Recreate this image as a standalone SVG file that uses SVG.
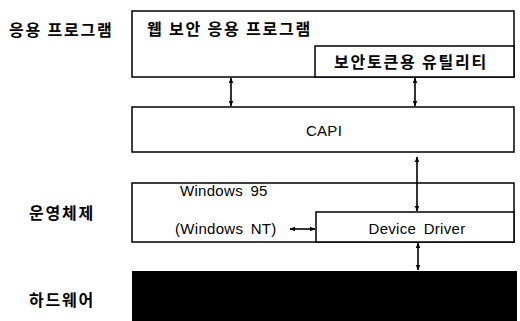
<svg xmlns="http://www.w3.org/2000/svg" width="520" height="321" viewBox="0 0 520 321">
<style>
.box{fill:#fff;stroke:#000;stroke-width:1.5}
.kr{font-family:"Noto Sans CJK KR","Noto Sans",sans-serif;font-weight:bold;font-size:16px;letter-spacing:1.8px;fill:#000}
.en{font-family:"Liberation Sans",Arial,sans-serif;font-size:15px;letter-spacing:0.3px;word-spacing:3px;fill:#000}
.con{stroke:#000;stroke-width:1.6;fill:none;marker-start:url(#ah);marker-end:url(#ah)}
</style>
<defs>
<marker id="ah" viewBox="0 0 10 10" refX="9" refY="5" markerWidth="6" markerHeight="6" markerUnits="userSpaceOnUse" orient="auto-start-reverse">
<path d="M0,1 L10,5 L0,9 z" fill="#000"/>
</marker>
</defs>
<rect width="520" height="321" fill="#fff"/>
<g id="labels">
<text class="kr" x="9" y="36">응용 프로그램</text>
<text class="kr" x="29" y="219">운영체제</text>
<text class="kr" x="29" y="306">하드웨어</text>
</g>
<g id="app">
<rect class="box" x="132" y="11" width="382" height="66"/>
<text class="kr" x="147" y="35">웹 보안 응용 프로그램</text>
</g>
<g id="token">
<rect class="box" x="315" y="46" width="199" height="31"/>
<text class="kr" x="334" y="68">보안토큰용 유틸리티</text>
</g>
<g id="capi">
<rect class="box" x="132" y="107" width="382" height="45"/>
<text class="en" x="324" y="136" text-anchor="middle">CAPI</text>
</g>
<g id="os">
<rect class="box" x="132" y="183" width="382" height="59"/>
<text class="en" x="180" y="196">Windows 95</text>
<text class="en" x="175" y="234">(Windows NT)</text>
</g>
<g id="driver">
<rect class="box" x="316" y="212" width="198" height="30"/>
<text class="en" x="417" y="234" text-anchor="middle">Device Driver</text>
</g>
<g id="hardware">
<rect x="132" y="271" width="385" height="50" fill="#000"/>
</g>
<g id="connectors">
<line class="con" x1="231" y1="78" x2="231" y2="106"/>
<line class="con" x1="415" y1="78" x2="415" y2="106"/>
<line class="con" x1="417" y1="157" x2="417" y2="211"/>
<line class="con" x1="290" y1="229" x2="315" y2="229"/>
<line class="con" x1="418" y1="243" x2="418" y2="270"/>
</g>
</svg>
